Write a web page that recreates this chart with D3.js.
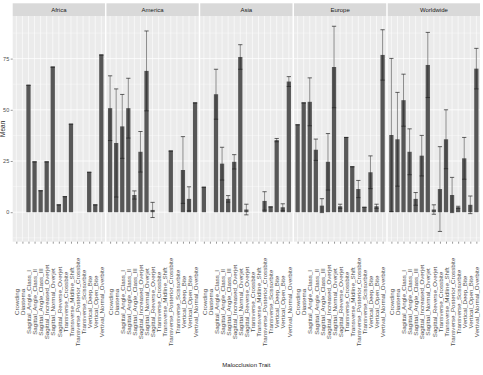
<meta charset="utf-8">
<title>Malocclusion Trait Mean by Region</title>
<style>
  body { margin: 0; background: #fff; }
  text { font-family: "Liberation Sans", Arial, sans-serif; }
</style>
<body>
<script src="https://d3js.org/d3.v7.min.js"></script>
<script>
// facets and categories
var regions = ['Africa', 'America', 'Asia', 'Europe', 'Worldwide'];
var traits = ['Crowding', 'Diastema', 'Sagittal_Angle_Class_I', 'Sagittal_Angle_Class_II',
  'Sagittal_Angle_Class_III', 'Sagittal_Increased_Overjet', 'Sagittal_Normal_Overjet',
  'Sagittal_Reverse_Overjet', 'Transverse_Crossbite', 'Transverse_Midline_Shift',
  'Transverse_Posterior_Crossbite', 'Transverse_Scissorbite', 'Vertical_Deep_Bite',
  'Vertical_Open_Bite', 'Vertival_Normal_Overbite'];
var yTicks = [0, 25, 50, 75];

// mean and sd per region (null = no data)
var africaMean = [null, null, 62.0, 24.6, 10.5, 24.6, 70.9, 3.6, 7.6, 43.0, null, null, 19.5, 3.6, 76.8];
var africaSd   = [null, null, 0, 0, 0, 0, 0, 0, 0, 0, null, null, 0, 0, 0];
var americaMean = [50.8, 33.8, 41.9, 50.8, 8.4, 29.5, 69.0, 1.1, null, null, 29.9, null, 20.6, 6.5, 53.4];
var americaSd   = [15.8, 26.4, 15.6, 14.6, 2.0, 9.9, 19.5, 3.7, null, null, 0, null, 16.3, 5.9, 0];
var asiaMean = [12.2, null, 57.6, 23.7, 6.5, 24.6, 75.8, 1.3, null, null, 5.5, 2.6, 35.2, 2.4, 63.8];
var asiaSd   = [0, null, 12.2, 8.0, 1.6, 3.5, 6.0, 2.6, null, null, 4.5, 0, 0.8, 1.7, 2.4];
var europeMean = [42.7, 53.4, 53.9, 30.5, 3.2, 24.6, 70.9, 2.9, 36.5, 22.2, 11.3, 2.4, 19.5, 2.9, 76.8];
var europeSd   = [0, 0, 11.7, 5.2, 3.4, 13.8, 19.9, 1.0, 0, 0, 4.2, 0, 8.0, 1.0, 12.3];
var worldMean = [37.7, 35.6, 54.7, 29.5, 6.5, 27.6, 71.9, 1.3, 11.3, 35.6, 8.4, 2.4, 26.3, 3.6, 70.1];
var worldSd   = [37.4, 22.9, 12.7, 11.2, 3.1, 9.9, 15.9, 2.3, 20.7, 14.4, 8.6, 0.5, 10.2, 4.3, 9.9];

var means = [africaMean, americaMean, asiaMean, europeMean, worldMean];
var sds = [africaSd, americaSd, asiaSd, europeSd, worldSd];

var rows = [];
for (var r = 0; r < regions.length; r++) {
  for (var i = 0; i < traits.length; i++) {
    if (means[r][i] == null) continue;
    rows.push({region: regions[r], trait: traits[i], mean: means[r][i], sd: sds[r][i]});
  }
}

var W = 483, H = 375;
var padL = 12.7, padR = 480, panelTop = 16, panelBottom = 241.7, stripTop = 3.3;

var svg = d3.select('body').append('svg')
  .attr('width', W)
  .attr('height', H);

// facet band scale
var fx = d3.scaleBand().domain(regions).range([padL, padR]).paddingInner(0.016);
var x = d3.scalePoint().domain(traits).range([0, fx.bandwidth()]).padding(0.6);
var step = x.step();

var lo = d3.min(rows, function(d) { return Math.min(0, d.mean - d.sd); });
var hi = d3.max(rows, function(d) { return d.mean + d.sd; });
var pad = (hi - lo) * 0.05;
var y = d3.scaleLinear().domain([lo - pad, hi + pad]).range([panelBottom, panelTop]);

var minor = [-12.5, 12.5, 37.5, 62.5, 87.5];

regions.forEach(function(reg) {
  var g = svg.append('g').attr('transform', 'translate(' + fx(reg) + ',0)');
  var w = fx.bandwidth();

  // panel
  g.append('rect').attr('x', 0).attr('y', panelTop).attr('width', w).attr('height', panelBottom - panelTop)
    .style('fill', '#ebebeb');
  g.selectAll('.minor').data(minor).enter().append('line')
    .attr('x1', 0).attr('x2', w)
    .attr('y1', function(d) { return y(d); }).attr('y2', function(d) { return y(d); })
    .style('stroke', '#fff').style('stroke-width', 0.4);
  g.selectAll('.major').data(yTicks).enter().append('line')
    .attr('x1', 0).attr('x2', w)
    .attr('y1', function(d) { return y(d); }).attr('y2', function(d) { return y(d); })
    .style('stroke', '#fff').style('stroke-width', 0.8);
  g.selectAll('.vgrid').data(traits).enter().append('line')
    .attr('x1', function(d) { return x(d); }).attr('x2', function(d) { return x(d); })
    .attr('y1', panelTop).attr('y2', panelBottom)
    .style('stroke', '#fff').style('stroke-width', 0.6);

  // strip
  g.append('rect').attr('x', 0).attr('y', stripTop).attr('width', w).attr('height', panelTop - stripTop)
    .style('fill', '#d9d9d9');
  g.append('text').attr('x', w / 2).attr('y', (stripTop + panelTop) / 2).attr('dy', '0.35em')
    .style('font-size', '6px').style('fill', '#1a1a1a').style('text-anchor', 'middle')
    .text(reg);

  var data = rows.filter(function(d) { return d.region == reg; });
  var bw = step * 0.7;

  g.selectAll('.bar').data(data).enter().append('rect')
    .attr('x', function(d) { return x(d.trait) - bw / 2; })
    .attr('y', function(d) { return y(Math.max(0, d.mean)); })
    .attr('width', bw)
    .attr('height', function(d) { return Math.abs(y(0) - y(d.mean)); })
    .style('fill', '#575757');

  // error bars
  var eb = g.selectAll('.eb').data(data).enter().append('g');
  eb.append('line')
    .attr('x1', function(d) { return x(d.trait); }).attr('x2', function(d) { return x(d.trait); })
    .attr('y1', function(d) { return y(d.mean - d.sd); }).attr('y2', function(d) { return y(d.mean + d.sd); })
    .style('stroke', '#222').style('stroke-width', 0.5);
  eb.append('line')
    .attr('x1', function(d) { return x(d.trait) - bw / 2; }).attr('x2', function(d) { return x(d.trait) + bw / 2; })
    .attr('y1', function(d) { return y(d.mean + d.sd); }).attr('y2', function(d) { return y(d.mean + d.sd); })
    .style('stroke', '#222').style('stroke-width', 0.7);
  eb.append('line')
    .attr('x1', function(d) { return x(d.trait) - bw / 2; }).attr('x2', function(d) { return x(d.trait) + bw / 2; })
    .attr('y1', function(d) { return y(d.mean - d.sd); }).attr('y2', function(d) { return y(d.mean - d.sd); })
    .style('stroke', '#222').style('stroke-width', 0.7);

  // x axis
  var ax = g.append('g').attr('transform', 'translate(0,' + panelBottom + ')')
    .call(d3.axisBottom(x).tickSize(2).tickPadding(2));
  ax.select('.domain').remove();
  ax.selectAll('.tick line').style('stroke', '#333').style('stroke-width', 0.5);
  ax.selectAll('.tick text')
    .attr('transform', 'translate(0,' + (302 - panelBottom) + ') rotate(-90)')
    .attr('x', 0).attr('y', 0).attr('dy', '0.35em')
    .style('text-anchor', 'middle')
    .style('font-size', '6.2px').style('fill', '#4d4d4d')
    .style('font-family', '"Liberation Sans", Arial, sans-serif');
});

// y axis
var ay = svg.append('g').attr('transform', 'translate(' + padL + ',0)')
  .call(d3.axisLeft(y).tickValues(yTicks).tickSize(2).tickPadding(1.5));
ay.select('.domain').remove();
ay.selectAll('.tick line').style('stroke', '#333').style('stroke-width', 0.5);
ay.selectAll('.tick text').style('font-size', '5.5px').style('fill', '#4d4d4d')
  .style('font-family', '"Liberation Sans", Arial, sans-serif');

// axis titles
svg.append('text')
  .attr('transform', 'translate(5,' + ((panelTop + panelBottom) / 2) + ') rotate(-90)')
  .style('text-anchor', 'middle').style('font-size', '6.5px').style('fill', '#222')
  .text('Mean');
svg.append('text')
  .attr('x', (padL + padR) / 2).attr('y', 367)
  .style('text-anchor', 'middle').style('font-size', '6px').style('fill', '#222')
  .text('Malocclusion Trait');
</script>
